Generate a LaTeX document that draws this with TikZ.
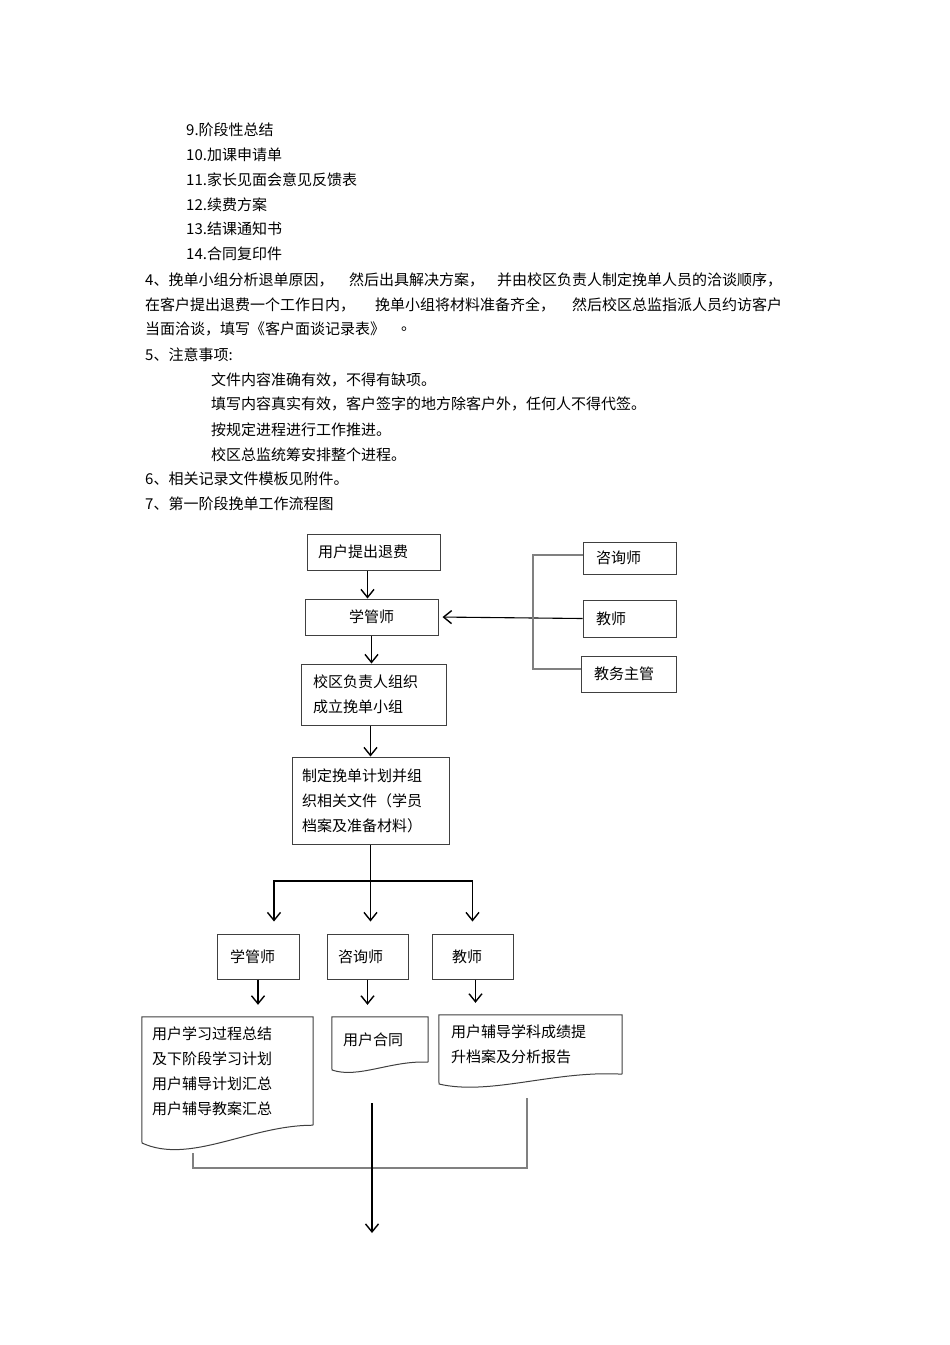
\documentclass[tikz,border=0pt]{standalone}
\usepackage{fontspec}
\setmainfont{Noto Sans CJK SC}
\usepackage{tikz}
\usetikzlibrary{arrows.meta}
\usetikzlibrary{calc}

\begin{document}
\begin{tikzpicture}[
    x=1pt, y=-1pt,
    font=\fontsize{15}{25}\selectfont,
    txt/.style={anchor=west, inner sep=0pt},
    box/.style={draw=black!75, line width=1pt, inner ysep=0pt, align=left},
    doc/.style={inner ysep=0pt, align=left},
    docline/.style={draw=black!75, line width=1pt},
    arr/.style={-{Straight Barb[length=8pt,width=13pt,line width=1.4pt]}, line width=1.1pt},
    bracket/.style={gray, line width=1.1pt},
]
    \fill[white] (0,0) rectangle (950,1345);
    \useasboundingbox (0,0) rectangle (950,1345);
    \node (l9) at (186,130) [txt] {9.阶段性总结};
    \node (l10) at (186,155) [txt] {10.加课申请单};
    \node (l11) at (186,180) [txt] {11.家长见面会意见反馈表};
    \node (l12) at (186,205) [txt] {12.续费方案};
    \node (l13) at (186,229) [txt] {13.结课通知书};
    \node (l14) at (186,254) [txt] {14.合同复印件};
    \node (p4a) at (145,280) [txt] {4、挽单小组分析退单原因，};
    \node (p4b) at (349,280) [txt] {然后出具解决方案，};
    \node (p4c) at (497,280) [txt] {并由校区负责人制定挽单人员的洽谈顺序，};
    \node (p4d) at (145,305) [txt] {在客户提出退费一个工作日内，};
    \node (p4e) at (375,305) [txt] {挽单小组将材料准备齐全，};
    \node (p4f) at (572,305) [txt] {然后校区总监指派人员约访客户};
    \node (p4g) at (145,329) [txt] {当面洽谈，填写《客户面谈记录表》};
    \node (p4h) at (401,329) [txt] {。};
    \node (p5) at (145,355) [txt] {5、注意事项:};
    \node (p5a) at (211,380) [txt] {文件内容准确有效，不得有缺项。};
    \node (p5b) at (211,404) [txt] {填写内容真实有效，客户签字的地方除客户外，任何人不得代签。};
    \node (p5c) at (211,430) [txt] {按规定进程进行工作推进。};
    \node (p5d) at (211,455) [txt] {校区总监统筹安排整个进程。};
    \node (p6) at (145,479) [txt] {6、相关记录文件模板见附件。};
    \node (p7) at (145,504) [txt] {7、第一阶段挽单工作流程图};

    \node (tuifei) at (373.5,552) [box, inner xsep=11pt, text width=111pt, minimum height=36pt] {用户提出退费};
    \node (xgs) at (371.5,617) [box, inner xsep=11pt, text width=111pt, minimum height=36pt, align=center] {学管师};
    \node (zuzhi) at (373.5,694.5) [box, inner xsep=12pt, text width=121pt, minimum height=61pt] {校区负责人组织\\成立挽单小组};
    \node (jihua) at (370.5,800.5) [box, inner xsep=10pt, text width=137pt, minimum height=87pt] {制定挽单计划并组\\织相关文件（学员\\档案及准备材料）};
    \node (zxs) at (629.5,558) [box, inner xsep=13pt, text width=67pt, minimum height=32pt] {咨询师};
    \node (js) at (629.5,618.5) [box, inner xsep=13pt, text width=67pt, minimum height=37pt] {教师};
    \node (jwzg) at (628.5,674) [box, inner xsep=13pt, text width=69pt, minimum height=36pt] {教务主管};
    \node (xgs2) at (258,956.5) [box, inner xsep=13pt, text width=56pt, minimum height=45pt] {学管师};
    \node (zxs2) at (367.5,956.5) [box, inner xsep=11pt, text width=59pt, minimum height=45pt] {咨询师};
    \node (js2) at (472.5,956.5) [box, inner xsep=20pt, text width=41pt, minimum height=45pt] {教师};
    \node (doc1) at (227.5,1071) [doc, inner xsep=10pt, text width=151pt, minimum height=108pt] {用户学习过程总结\\及下阶段学习计划\\用户辅导计划汇总\\用户辅导教案汇总};
    \node (doc2) at (380,1039.5) [doc, inner xsep=11pt, text width=74pt, minimum height=45pt] {用户合同};
    \node (doc3) at (530.5,1044.5) [doc, inner xsep=12pt, text width=159pt, minimum height=59pt] {用户辅导学科成绩提\\升档案及分析报告};

    \draw[docline] (doc1.south east) -- (doc1.north east) -- (doc1.north west) -- (142,1143)
        .. controls (190,1165) and (250,1125) .. (doc1.south east);
    \draw[docline] (doc2.south east) -- (doc2.north east) -- (doc2.north west) -- (332,1070)
        .. controls (358,1079) and (392,1060) .. (doc2.south east);
    \draw[docline] (doc3.south east) -- (doc3.north east) -- (doc3.north west) -- (439,1084)
        .. controls (490,1096) and (555,1070) .. (doc3.south east);

    \coordinate (brk) at (533,0);
    \coordinate (fork) at (370,881);
    \coordinate (mergeL) at (193,1153);
    \coordinate (mergeR) at (527,1098);
    \coordinate (outtop) at (372,1103);
    \coordinate (outend) at (372,1233);

    \draw[arr] ([xshift=-4pt]tuifei.south -| xgs.north) -- ([xshift=-4pt]xgs.north);
    \draw[arr] (xgs.south) -- (xgs.south |- zuzhi.north);
    \draw[arr] (zuzhi.south -| jihua.north) -- (jihua.north);
    \draw[arr, shorten >=4pt] (js.west) -- (xgs.east);
    \draw[bracket] ([yshift=3pt]zxs.west) -- ([yshift=3pt]zxs.west -| brk) -- ([yshift=5pt]jwzg.west -| brk) -- ([yshift=5pt]jwzg.west);
    \draw[arr, shorten >=12pt] (jihua.south) -- (jihua.south |- zxs2.north);
    \draw[arr, shorten >=12pt] (fork) -| ([xshift=16pt]xgs2.north);
    \draw[arr, shorten >=12pt] (fork) -| (js2.north);
    \draw[arr, shorten >=12pt] (xgs2.south) -- (xgs2.south |- doc1.north);
    \draw[arr, shorten >=12pt] (zxs2.south) -- (zxs2.south |- doc2.north);
    \draw[arr, shorten >=12pt] ([xshift=3pt]js2.south) -- ([xshift=3pt]js2.south |- doc3.north);
    \draw[bracket] (mergeL) -- ++(0,15) -| (mergeR);
    \draw[arr] (outtop) -- (outend);
\end{tikzpicture}
\end{document}
